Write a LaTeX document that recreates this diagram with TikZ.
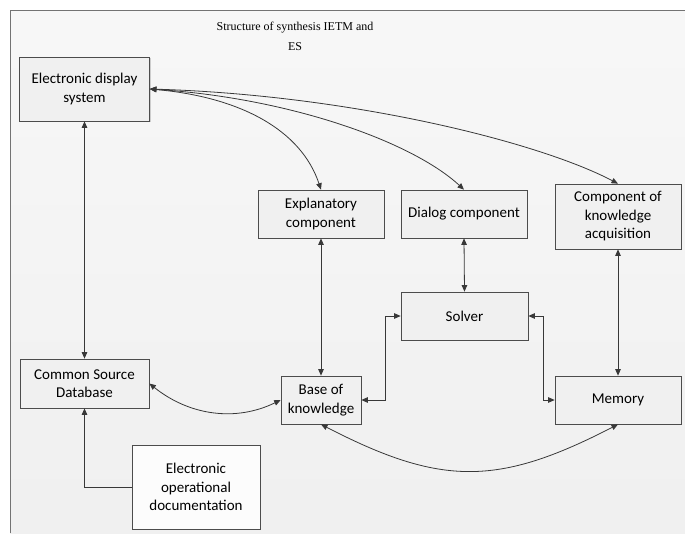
\documentclass[tikz,border=0pt]{standalone}
\usepackage{fontspec}
\setmainfont{Carlito}
\newfontfamily\titlefont{Liberation Serif}
\usetikzlibrary{arrows.meta,shadows}
\begin{document}
\begin{tikzpicture}[x=1pt,y=-1pt,
  box/.style={draw=black!70, line width=0.7pt, fill=black!6, align=center, inner sep=0pt,
    font=\fontsize{15}{18.5}\selectfont, text=black,
    drop shadow={shadow xshift=1.2pt, shadow yshift=-1.2pt, fill=black!30, opacity=0.6}},
  whitebox/.style={box, fill=black!1},
  link/.style={draw=black!78, line width=0.8pt, {Triangle[length=6.5pt,width=5.5pt]}-{Triangle[length=6.5pt,width=5.5pt]}},
  onelink/.style={draw=black!78, line width=0.8pt, -{Triangle[length=6.5pt,width=5.5pt]}},
  frameline/.style={draw=black!55, line width=0.8pt}
]
\useasboundingbox (0,0) rectangle (685,533);
\fill[white] (0,0) rectangle (685,533);
\fill[top color=black!3, bottom color=black!6] (10,10) rectangle (685,533);
\draw[frameline] (10,533) -- (10,10) -- (685,10);

\node[font=\titlefont\fontsize{12}{20}\selectfont, align=center, text=black] (title) at (295,36) {Structure of synthesis IETM and\\ES};

\node[box, minimum width=130pt, minimum height=64pt] (eds) at (84.5,89) {Electronic display\\system};
\node[box, minimum width=126pt, minimum height=48pt] (expl) at (321,214) {Explanatory\\component};
\node[box, minimum width=126pt, minimum height=48pt] (dialog) at (464,214) {Dialog component};
\node[box, minimum width=126pt, minimum height=65pt] (cka) at (618,216.5) {Component of\\knowledge\\acquisition};
\node[box, minimum width=127pt, minimum height=48pt] (solver) at (464.5,316) {Solver};
\node[box, minimum width=126pt, minimum height=48pt] (memory) at (618,400) {Memory};
\node[box, minimum width=129pt, minimum height=49pt] (csd) at (84.5,383.5) {Common Source\\Database};
\node[box, minimum width=80pt, minimum height=48pt] (bok) at (321,400) {Base of\\knowledge};
\node[whitebox, minimum width=128pt, minimum height=84pt] (eod) at (196,487) {Electronic\\operational\\documentation};

% curved links from the display system
\draw[link] (eds.east) .. controls +(90,8) and +(-20,-60) .. (expl.north);
\draw[link] (eds.east) .. controls +(140,9) and +(-52,-48) .. (dialog.north);
\draw[link] (eds.east) .. controls +(200,6) and +(-80,-42) .. (cka.north);

% vertical links
\draw[link] (eds.south) -- (csd.north);
\draw[link] (expl.south) -- (bok.north);
\draw[link] (dialog.south) -- (solver.north);
\draw[link] (cka.south) -- (memory.north);

% orthogonal links
\draw[link] (bok.east) -- ++(24,0) |- (solver.west);
\draw[link] (solver.east) -- ++(15,0) |- (memory.west);
\draw[onelink] (eod.west) -| (csd.south);

% curved lower links
\draw[link] (csd.east) .. controls +(40,32) and +(-45,22) .. (bok.west);
\draw[link] (bok.south) .. controls +(120,62) and +(-120,62) .. (memory.south);
\end{tikzpicture}
\end{document}
